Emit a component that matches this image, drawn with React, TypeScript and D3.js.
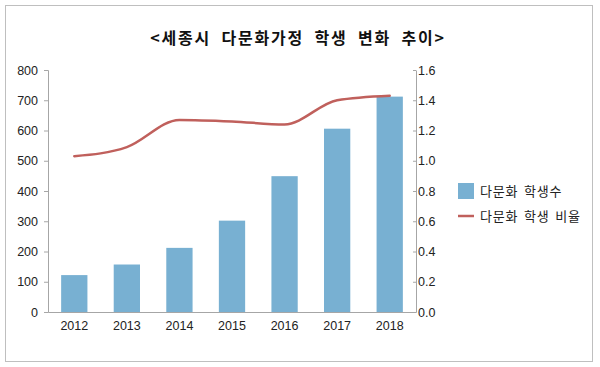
import { useEffect, useRef } from 'react';
import * as d3 from 'd3';

const years = ['2012', '2013', '2014', '2015', '2016', '2017', '2018'];
const students = [122, 157, 212, 302, 449, 606, 712];
const ratio = [1.03, 1.09, 1.27, 1.26, 1.24, 1.40, 1.43];
const leftTicks = [0, 100, 200, 300, 400, 500, 600, 700, 800];
const rightTicks = [0, 0.2, 0.4, 0.6, 0.8, 1.0, 1.2, 1.4, 1.6];

const title = '<세종시 다문화가정 학생 변화 추이>';
const barLabel = '다문화 학생수';
const lineLabel = '다문화 학생 비율';

const BAR = '#78b0d2';
const LINE = '#c0605c';
const AXIS = '#a6a6a6';
const FONT = '"Liberation Sans", Arial, sans-serif';
const KFONT = '"Noto Sans CJK KR", sans-serif';

const App = () => {
  const svgRef = useRef<SVGSVGElement>(null);

  useEffect(() => {
    if (!svgRef.current) return;
    const svg = d3.select(svgRef.current);
    svg.selectAll('*').remove();

    const left = 48, right = 416, top = 70, bottom = 312;

    // outer frame
    svg.append('rect')
      .attr('x', 5.5).attr('y', 5.5)
      .attr('width', 587).attr('height', 356)
      .attr('fill', '#fff').attr('stroke', '#bfbfbf');

    svg.append('text')
      .attr('x', 298).attr('y', 44)
      .attr('text-anchor', 'middle')
      .style('font-family', KFONT)
      .style('font-size', '16px')
      .style('font-weight', 'bold')
      .style('letter-spacing', '1.8px')
      .style('word-spacing', '5px')
      .style('fill', '#111')
      .text(title);

    const x = d3.scaleBand().domain(years).range([left, right]).paddingInner(0.5).paddingOuter(0.25);
    const yL = d3.scaleLinear().domain([0, 800]).range([bottom, top]);
    const yR = d3.scaleLinear().domain([0, 1.6]).range([bottom, top]);

    // bars
    svg.append('g').selectAll('rect')
      .data(students)
      .enter()
      .append('rect')
      .attr('x', (_, i) => x(years[i])!)
      .attr('y', d => yL(d))
      .attr('width', x.bandwidth())
      .attr('height', d => bottom - yL(d))
      .attr('fill', BAR);

    // smoothed ratio line
    const line = d3.line<number>()
      .x((_, i) => x(years[i])! + x.bandwidth() / 2)
      .y(d => yR(d))
      .curve(d3.curveMonotoneX);

    svg.append('path')
      .datum(ratio)
      .attr('d', line)
      .attr('fill', 'none')
      .attr('stroke', LINE)
      .attr('stroke-width', 2.5)
      .attr('stroke-linecap', 'round');

    // left axis
    const gl = svg.append('g')
      .attr('transform', `translate(${left},0)`)
      .call(d3.axisLeft(yL).tickValues(leftTicks).tickSize(4).tickPadding(6));
    gl.selectAll('path, line').attr('stroke', AXIS);
    gl.selectAll('text').style('font-family', FONT).style('font-size', '12.5px').style('fill', '#222');

    // right axis
    const gr = svg.append('g')
      .attr('transform', `translate(${right},0)`)
      .call(d3.axisRight(yR).tickValues(rightTicks).tickFormat(d3.format('.1f')).tickSize(0).tickPadding(2));
    gr.selectAll('.tick line').attr('x1', -3).attr('x2', 0).attr('stroke', AXIS);
    gr.select('path').attr('stroke', AXIS);
    gr.selectAll('text').style('font-family', FONT).style('font-size', '12.5px').style('fill', '#222');

    // bottom axis
    const gb = svg.append('g')
      .attr('transform', `translate(0,${bottom})`)
      .call(d3.axisBottom(x).tickSize(0).tickPadding(9));
    gb.select('path').attr('stroke', AXIS);
    gb.selectAll('text').style('font-family', FONT).style('font-size', '12.5px').style('fill', '#222');

    // legend
    const lg = svg.append('g').attr('transform', 'translate(458,0)');
    lg.append('rect').attr('x', 0).attr('y', 183).attr('width', 16).attr('height', 16).attr('fill', BAR);
    lg.append('text').attr('x', 22).attr('y', 195.5)
      .style('font-family', KFONT).style('font-size', '13px').style('letter-spacing', '0.8px')
      .style('word-spacing', '2px').style('fill', '#222').text(barLabel);
    lg.append('line').attr('x1', 0).attr('x2', 16).attr('y1', 216).attr('y2', 216)
      .attr('stroke', LINE).attr('stroke-width', 2.5);
    lg.append('text').attr('x', 22).attr('y', 220.5)
      .style('font-family', KFONT).style('font-size', '13px').style('letter-spacing', '0.8px')
      .style('word-spacing', '2px').style('fill', '#222').text(lineLabel);
  }, []);

  return (
    <svg
      ref={svgRef}
      width={600}
      height={367}
      style={{ position: 'absolute', left: 0, top: 0, background: '#fff' }}
    />
  );
};

export default App;
